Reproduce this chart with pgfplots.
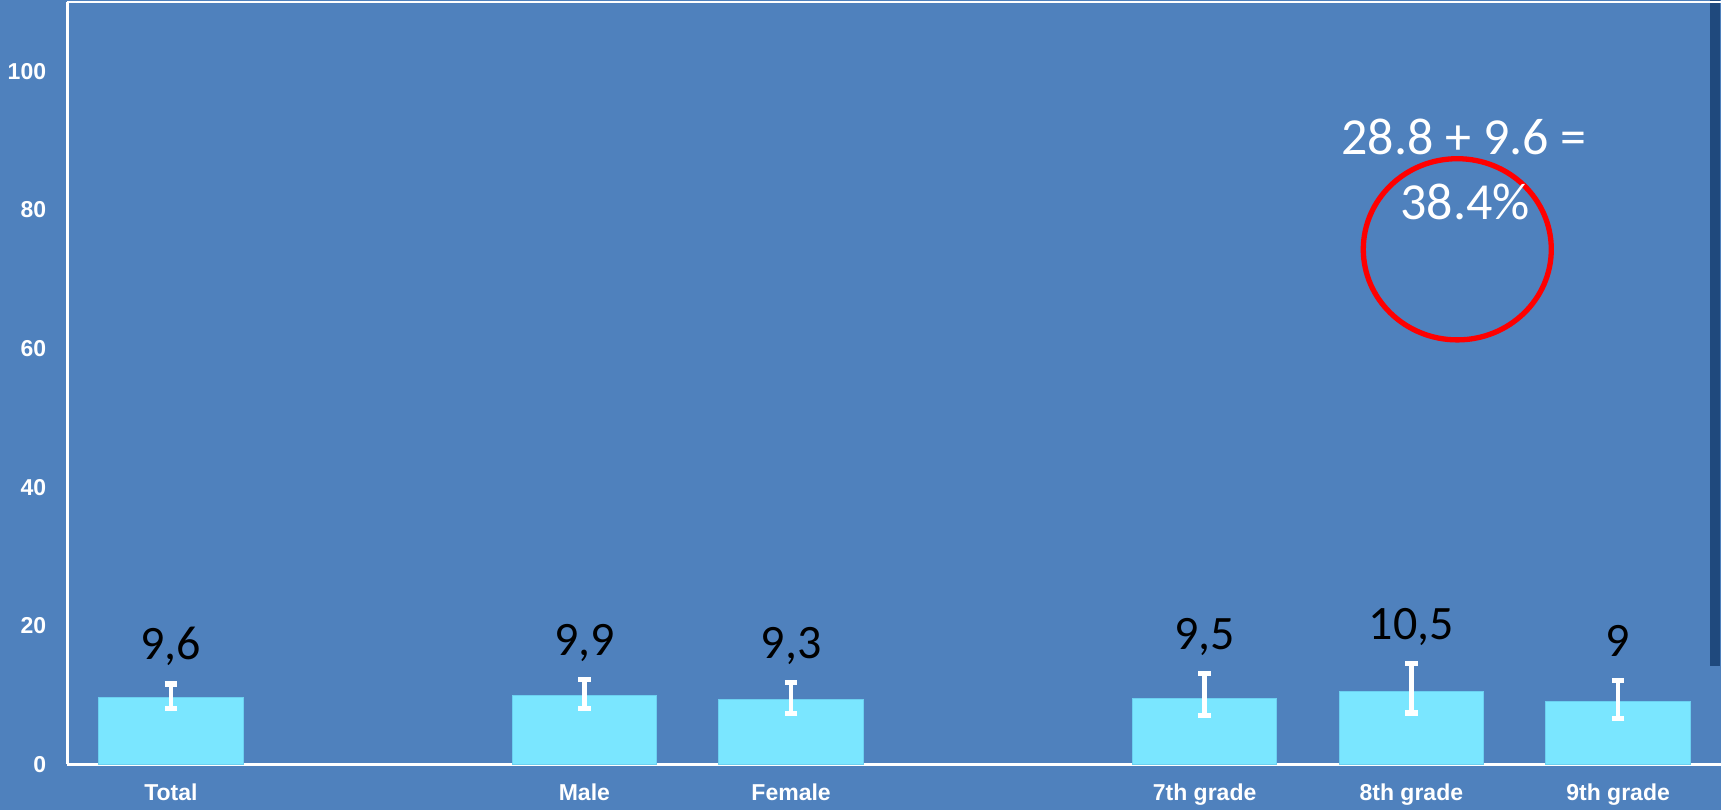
\documentclass[border=0pt]{standalone}
\usepackage{fontspec}
\setmainfont{Carlito}
\newfontfamily\tickfont{Liberation Sans}
\usepackage{pgfplots}
\pgfplotsset{compat=1.18}
\usepackage{pgfplotstable}

\definecolor{slide}{RGB}{79,129,189}
\definecolor{barcyan}{RGB}{122,230,255}
\definecolor{baredge}{RGB}{108,208,240}
\definecolor{navy}{RGB}{31,73,125}

% prevalence (%) with upper and lower confidence margins
\pgfplotstableread{
x v ep em
0 9.6 2.0 1.5
2 9.9 2.35 1.9
3 9.3 2.5 1.95
5 9.5 3.65 2.5
6 10.5 4.1 3.1
7 9.0 3.1 2.4
}\prevdata

\begin{document}
\begin{tikzpicture}
\path[use as bounding box] (-33.75pt,-22.85pt) rectangle (826.75pt,382.15pt);
\fill[slide] (-33.75pt,-22.85pt) rectangle (826.75pt,382.15pt);
\fill[navy] (821.25pt,49.15pt) rectangle (826.25pt,382.15pt);
\begin{axis}[
  at={(0pt,0pt)}, anchor=south west,
  scale only axis, width=827pt, height=381.05pt,
  xmin=-0.5, xmax=7.5, ymin=0, ymax=110,
  axis x line=box, axis y line=left,
  every non boxed y axis/.append style={y axis line style=-},
  axis line style={white, line width=1.2pt, -},
  xtick={0,2,3,5,6,7},
  xticklabels={Total,Male,Female,7th grade,8th grade,9th grade},
  ytick={0,20,40,60,80,100},
  major tick length=0pt,
  tick style={draw=none},
  /pgf/number format/assume math mode=true,
  tick label style={font=\tickfont\bfseries\fontsize{11.5pt}{13pt}\selectfont, text=white, inner sep=0pt},
  yticklabel style={anchor=east, xshift=-10.5pt},
  xticklabel style={anchor=base, yshift=-18pt},
]
\addplot[ybar, bar width=0.7, fill=barcyan, draw=baredge, line width=0.5pt,
  error bars/.cd, y dir=both, y explicit,
  error bar style={white, line width=2.2pt},
  error mark options={white, rotate=90, mark size=3.1pt, line width=2.6pt}]
  table[x=x, y=v, y error plus=ep, y error minus=em] {\prevdata};
\addplot[draw=none, mark=none, point meta=explicit,
  /pgf/number format/use comma,
  nodes near coords,
  nodes near coords style={anchor=base, yshift=12pt, text=black,
    font=\fontsize{24pt}{28pt}\selectfont}]
  table[x=x, y expr=\thisrow{v}+\thisrow{ep}, meta=v] {\prevdata};
\end{axis}
\draw[red, line width=2.65pt] (694.9pt,257.5pt) ellipse [x radius=47pt, y radius=45.3pt];
\node[anchor=base, text=white, inner sep=0pt, font=\fontsize{26pt}{31pt}\selectfont]
  at (698.25pt,304.65pt) {28.8 + 9.6 =};
\node[anchor=base, text=white, inner sep=0pt, font=\fontsize{26pt}{31pt}\selectfont]
  at (698.75pt,272.5pt) {38.4\%};
\end{tikzpicture}
\end{document}
